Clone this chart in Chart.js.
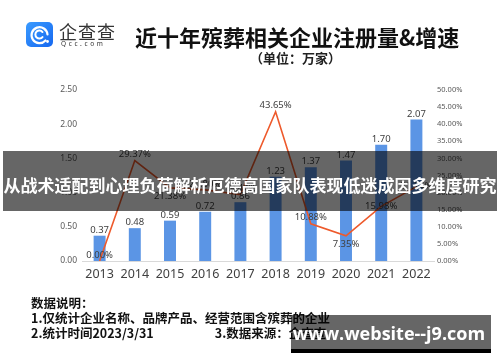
<!DOCTYPE html>
<html>
<head>
<meta charset="utf-8">
<script src="https://cdn.jsdelivr.net/npm/chart.js@4.4.0/dist/chart.umd.min.js"></script>
<style>
html, body { margin: 0; padding: 0; background: #fff; }
#wrap { position: relative; width: 500px; height: 362px; overflow: hidden;
        font-family: "Noto Sans CJK SC", "Noto Sans", sans-serif; }
#chart { position: absolute; left: 0; top: 0; }
.abs { position: absolute; white-space: nowrap; }
#logo { left: 26px; top: 22px; width: 27px; height: 25px; }
#brand { left: 59px; top: 21px; font-size: 18px; line-height: 20px; color: #333; letter-spacing: 1px; }
#brandSub { left: 61px; top: 40px; font-family: "Noto Sans", sans-serif; font-size: 6.5px; line-height: 8px; color: #333; letter-spacing: 2.6px; }
#title { left: 135px; top: 22px; font-size: 22px; line-height: 28px; font-weight: bold; color: #111; }
#unit { left: 250px; top: 49px; font-size: 13px; line-height: 18px; font-weight: bold; color: #222; }
#notes { left: 31px; top: 295px; font-size: 12.5px; line-height: 15px; font-weight: bold; color: #111; }
#banner { left: 3px; top: 151px; width: 494px; height: 60px; background: rgba(0,0,0,0.6); }
#bannerText { left: 3px; top: 173px; width: 494px; text-align: center; font-size: 17px; line-height: 24px; font-weight: bold; color: #fff; }
#mark { left: 291px; top: 315px; width: 200px; height: 38px; background: rgba(0,0,0,0.6); }
#markBar { left: 291px; top: 349px; width: 200px; height: 4px; background: #000; }
#markText { left: 291px; top: 320px; width: 196px; text-align: center; font-family: "Open Sans", sans-serif; font-size: 18px; line-height: 26px; font-weight: bold; color: #fff; }
</style>
</head>
<body>
<div id="wrap">
  <canvas id="chart" width="500" height="362"></canvas>
  <svg id="logo" class="abs" viewBox="0 0 27 25">
    <defs><linearGradient id="g" x1="0" y1="0" x2="1" y2="1">
      <stop offset="0" stop-color="#3A9BFF"/><stop offset="1" stop-color="#1668F0"/></linearGradient></defs>
    <rect x="0" y="0" width="27" height="25" rx="5" fill="url(#g)"/>
    <path d="M19.5 18.5 A8 8 0 1 1 21.5 12.5" fill="none" stroke="#fff" stroke-width="2.2" stroke-linecap="round"/>
    <path d="M16.5 10 A4 4 0 1 0 16.5 15" fill="none" stroke="#fff" stroke-width="2" stroke-linecap="round"/>
    <circle cx="21.5" cy="19.5" r="1.4" fill="#fff"/>
  </svg>
  <div id="brand" class="abs">企查查</div>
  <div id="brandSub" class="abs">Qcc.com</div>
  <div id="title" class="abs">近十年殡葬相关企业注册量&amp;增速</div>
  <div id="unit" class="abs">（单位：万家）</div>
  <div id="notes" class="abs">数据说明：<br>1.仅统计企业名称、品牌产品、经营范围含殡葬的企业<br>2.统计时间2023/3/31<span style="display:inline-block;width:61px"></span>3.数据来源：企查查</div>
  <div id="banner" class="abs"></div>
  <div id="bannerText" class="abs">从战术适配到心理负荷解析厄德高国家队表现低迷成因多维度研究</div>
  <div id="mark" class="abs"></div>
  <div id="markBar" class="abs"></div>
  <div id="markText" class="abs">www.website--j9.com</div>
</div>
<script>
// data
const years = ['2013', '2014', '2015', '2016', '2017', '2018', '2019', '2020', '2021', '2022'];
const registered = [0.37, 0.48, 0.59, 0.72, 0.86, 1.23, 1.37, 1.47, 1.70, 2.07];   // 万家
const growth = [0.00, 29.37, 21.38, 20.80, 19.44, 43.65, 10.88, 7.35, 15.98, 21.74]; // %
const leftTicks = [0, 0.5, 1, 1.5, 2, 2.5];
const rightTicks = [0, 5, 10, 15, 20, 25, 30, 35, 40, 45, 50];

// where each growth label sits relative to its point
const growthLabelPos = ['above', 'above', 'below', 'above', 'above', 'above', 'above', 'below', 'center', 'center'];

const valueLabels = {
    id: 'valueLabels',
    afterDatasetsDraw(chart) {
        const ctx = chart.ctx;
        ctx.save();
        ctx.fillStyle = '#404040';
        ctx.font = '9.5px "Noto Sans"';
        ctx.textAlign = 'center';
        ctx.textBaseline = 'middle';
        chart.getDatasetMeta(0).data.forEach((bar, i) => {
            ctx.fillText(registered[i].toFixed(2), bar.x, bar.y - 5.5);
        });
        chart.getDatasetMeta(1).data.forEach((pt, i) => {
            const dy = { above: -6, below: 8, center: 0 }[growthLabelPos[i]];
            ctx.fillText(growth[i].toFixed(2) + '%', pt.x, pt.y + dy);
        });
        ctx.restore();
    }
};

const ctx = document.getElementById('chart').getContext('2d');
new Chart(ctx, {
    type: 'bar',
    data: {
        labels: years,
        datasets: [{
            type: 'bar',
            label: '注册量',
            data: registered,
            backgroundColor: '#5B95E5',
            yAxisID: 'y',
            categoryPercentage: 1,
            barPercentage: 0.34,
            order: 1
        }, {
            type: 'line',
            label: '增速',
            data: growth,
            borderColor: '#EE5A2C',
            borderWidth: 1.6,
            pointRadius: 0,
            tension: 0,
            yAxisID: 'y1',
            order: 0
        }]
    },
    options: {
        responsive: false,
        animation: false,
        layout: { padding: { left: 20, right: 26, top: 90, bottom: 71 } },
        plugins: {
            legend: { display: false },
            tooltip: { enabled: false }
        },
        scales: {
            x: {
                grid: { display: false, drawTicks: false },
                border: { display: true, color: '#D9D9D9', width: 1 },
                ticks: { color: '#404040', font: { family: 'Noto Sans', size: 12.5 }, padding: 6, maxRotation: 0 },
                afterFit: s => { s.height = 30; }
            },
            y: {
                position: 'left',
                min: 0, max: 2.5,
                grid: { display: false, drawTicks: false },
                border: { display: false },
                afterBuildTicks: s => { s.ticks = leftTicks.map(v => ({ value: v })); },
                ticks: { color: '#595959', font: { family: 'Noto Sans', size: 8.5 }, padding: 5,
                         callback: v => v.toFixed(2) },
                afterFit: s => { s.width = 62; }
            },
            y1: {
                position: 'right',
                min: 0, max: 50,
                grid: { display: false, drawTicks: false },
                border: { display: false },
                afterBuildTicks: s => { s.ticks = rightTicks.map(v => ({ value: v })); },
                ticks: { color: '#595959', font: { family: 'Noto Sans', size: 7.5 }, padding: 3,
                         callback: v => v.toFixed(2) + '%' },
                afterFit: s => { s.width = 40; }
            }
        }
    },
    plugins: [valueLabels]
});
</script>
</body>
</html>
